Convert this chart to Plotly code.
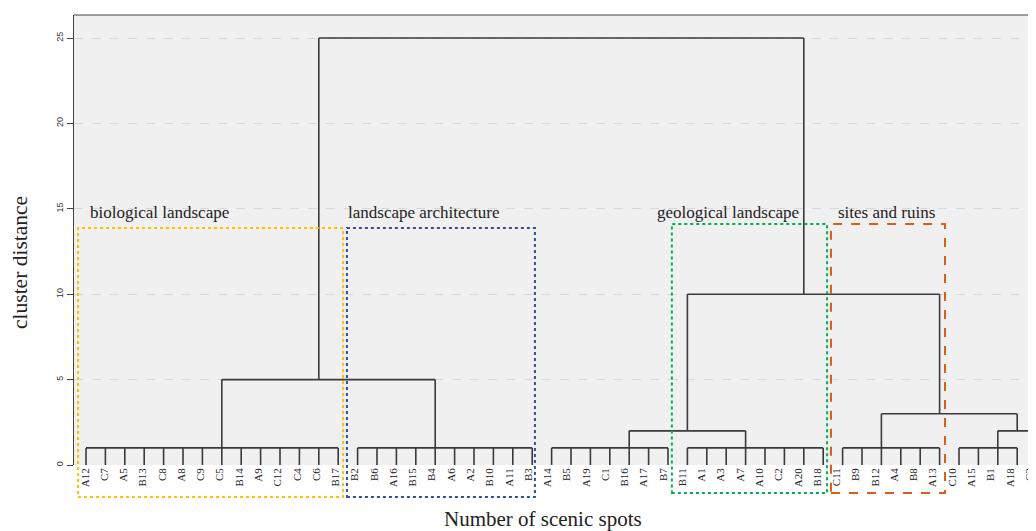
import plotly.graph_objects as go

# ---------------- data ----------------
leaves = ["A12", "C7", "A5", "B13", "C8", "A8", "C9", "C5", "B14", "A9", "C12", "C4", "C6", "B17",
          "B2", "B6", "A16", "B15", "B4", "A6", "A2", "B10", "A11", "B3",
          "A14", "B5", "A19", "C1", "B16", "A17", "B7",
          "B11", "A1", "A3", "A7", "A10", "C2", "A20", "B18",
          "C11", "B9", "B12", "A4", "B8", "A13",
          "C10", "A15", "B1", "A18", "C3"]

# leaf groups joined at a common distance: (first leaf, last leaf, distance)
group_first = [0, 14, 24, 31, 39, 45]
group_last = [13, 23, 30, 38, 44, 48]
group_height = [1, 1, 1, 1, 1, 1]

# higher merges: left child pos/height, right child pos/height, merge distance
merge_left_pos = [7, 28, 47, 41, 31, 12]
merge_left_h = [1, 1, 1, 1, 2, 5]
merge_right_pos = [18, 34, 49, 48, 44, 37]
merge_right_h = [1, 1, 0, 2, 3, 10]
merge_height = [5, 2, 2, 3, 10, 25]

y_ticks = [0, 5, 10, 15, 20, 25]

group_names = ["biological landscape", "landscape architecture", "geological landscape", "sites and ruins"]
group_label_pos = [0.1, 13.4, 29.33, 38.65]
box_left = [-0.41, 13.45, 30.2, 38.4]
box_right = [13.25, 23.14, 38.2, 44.28]
box_colors = ["#FFC000", "#2F4F9F", "#00B050", "#D2601A"]
box_dash = ["dot", "dot", "dot", "dash"]
box_top_px = [228, 228, 224, 224]
box_bottom_px = [497, 497, 493, 493]

# ---------------- build segments ----------------
xs, ys = [], []

def seg(x0, y0, x1, y1):
    xs.extend([x0, x1, None])
    ys.extend([y0, y1, None])

for a, b, h in zip(group_first, group_last, group_height):
    for i in range(a, b + 1):
        seg(i, 0, i, h)
    seg(a, h, b, h)

for lp, lh, rp, rh, h in zip(merge_left_pos, merge_left_h, merge_right_pos, merge_right_h, merge_height):
    seg(lp, lh, lp, h)
    seg(rp, rh, rp, h)
    seg(lp, h, rp, h)

fig = go.Figure()
fig.add_trace(go.Scatter(x=xs, y=ys, mode="lines",
                         line=dict(color="#3a3a3a", width=1.6),
                         hoverinfo="skip", showlegend=False))
# carrier for the leaf-label axis
fig.add_trace(go.Scatter(x=[0], y=[0], xaxis="x2", mode="markers",
                         marker=dict(opacity=0), hoverinfo="skip", showlegend=False))

# ---------------- layout geometry ----------------
OFF = 8  # default page body margin
EXTRA = 28  # plot continues past the right edge of the view (cropped, like the reference)
W, H = 1036 - OFF + EXTRA, 531 - OFF
ml, mr, mt, mb = 74 - OFF, 0, 15 - OFF, 66
plot_h = H - mt - mb
plot_w = W - ml - mr
step_px = 19.4
x0 = -12 / step_px
x_range = [x0, x0 + plot_w / step_px]
label_step_px = 19.27
lx0 = -11 / label_step_px
label_range = [lx0, lx0 + plot_w / label_step_px]
y_range = [0, 26.35]

def py(px):  # page pixel y -> paper
    return (OFF + H - mb - px) / plot_h

def pxp(px):  # page pixel x -> paper
    return (px - OFF - ml) / plot_w

shapes = []
for l, r, c, d, t, b in zip(box_left, box_right, box_colors, box_dash, box_top_px, box_bottom_px):
    shapes.append(dict(type="rect", xref="x", yref="paper", x0=l, x1=r, y0=py(b), y1=py(t),
                       line=dict(color=c, width=2, dash=d), fillcolor="rgba(0,0,0,0)", layer="above"))
# top frame line
shapes.append(dict(type="line", xref="paper", yref="paper", x0=0, x1=1, y0=1, y1=1,
                   line=dict(color="#444444", width=1.2)))

annotations = []
for name, pos in zip(group_names, group_label_pos):
    annotations.append(dict(x=pos, y=14.8, xref="x", yref="y", text=name, showarrow=False,
                            xanchor="left", yanchor="middle",
                            font=dict(family="Liberation Serif, serif", size=17, color="#222222")))
annotations.append(dict(x=pxp(20), y=py(263), xref="paper", yref="paper", text="cluster distance",
                        textangle=-90, showarrow=False, xanchor="center", yanchor="middle",
                        font=dict(family="Liberation Serif, serif", size=21.5, color="#222222")))
annotations.append(dict(x=pxp(543), y=py(519), xref="paper", yref="paper", text="Number of scenic spots",
                        showarrow=False, xanchor="center", yanchor="middle",
                        font=dict(family="Liberation Serif, serif", size=21, color="#222222")))

fig.update_layout(
    width=W, height=H,
    margin=dict(l=ml, r=mr, t=mt, b=mb, pad=0),
    paper_bgcolor="white",
    plot_bgcolor="#F0F0F0",
    shapes=shapes,
    annotations=annotations,
    showlegend=False,
    xaxis=dict(range=x_range, showticklabels=False, showgrid=False, zeroline=False,
               showline=False, ticks=""),
    xaxis2=dict(range=label_range, overlaying="x", side="bottom", anchor="y",
                tickmode="array", tickvals=list(range(len(leaves))), ticktext=leaves,
                tickangle=-90, showgrid=False, zeroline=False, showline=False, ticks="",
                tickfont=dict(family="Liberation Serif, serif", size=11, color="#222222")),
)
fig.update_yaxes(range=y_range, tickmode="array", tickvals=y_ticks, tickangle=-90,
                 showgrid=True, gridcolor="#D8D8D8", griddash="dash", gridwidth=1,
                 zeroline=False, showline=True, linecolor="#444444", linewidth=1.2,
                 ticks="outside", ticklen=6, tickcolor="#444444",
                 tickfont=dict(family="Liberation Sans, Arial, sans-serif", size=9, color="#333333"))

fig.write_html("out.html")
